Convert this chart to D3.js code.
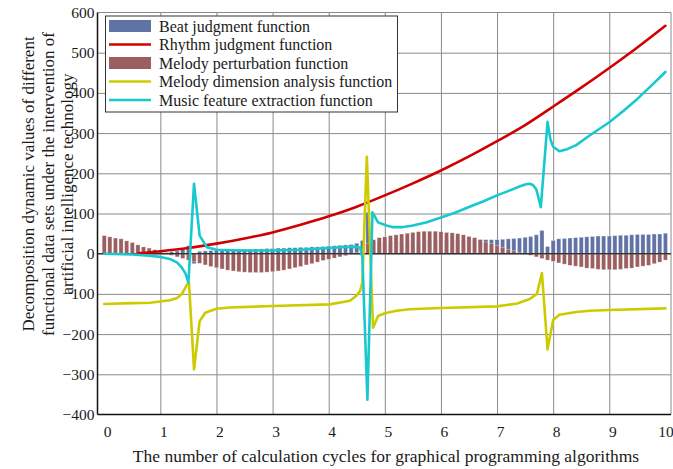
<!DOCTYPE html>
<html>
<head>
<meta charset="utf-8">
<script src="https://cdn.jsdelivr.net/npm/d3@7"></script>
<style>
  html, body { margin: 0; padding: 0; background: #fff; }
  svg { display: block; }
  svg text { font-family: "Liberation Serif", "Times New Roman", serif; }
</style>
</head>
<body>
<svg id="chart" width="673" height="469"></svg>
<script>
// ---------------- data ----------------
const xTicks = [0, 1, 2, 3, 4, 5, 6, 7, 8, 9, 10];
const yTicks = [-400, -300, -200, -100, 0, 100, 200, 300, 400, 500, 600];

const barX = [
  0.0, 0.1, 0.2, 0.3, 0.4, 0.5, 0.6, 0.7, 0.8, 0.9,
  1.0, 1.1, 1.2, 1.3, 1.4, 1.5, 1.6, 1.7, 1.8, 1.9,
  2.0, 2.1, 2.2, 2.3, 2.4, 2.5, 2.6, 2.7, 2.8, 2.9,
  3.0, 3.1, 3.2, 3.3, 3.4, 3.5, 3.6, 3.7, 3.8, 3.9,
  4.0, 4.1, 4.2, 4.3, 4.4, 4.5, 4.6, 4.7, 4.8, 4.9,
  5.0, 5.1, 5.2, 5.3, 5.4, 5.5, 5.6, 5.7, 5.8, 5.9,
  6.0, 6.1, 6.2, 6.3, 6.4, 6.5, 6.6, 6.7, 6.8, 6.9,
  7.0, 7.1, 7.2, 7.3, 7.4, 7.5, 7.6, 7.7, 7.8, 7.9,
  8.0, 8.1, 8.2, 8.3, 8.4, 8.5, 8.6, 8.7, 8.8, 8.9,
  9.0, 9.1, 9.2, 9.3, 9.4, 9.5, 9.6, 9.7, 9.8, 9.9,
  10.0
];

// Beat judgment function (blue bars)
const beatValues = [
  0, 0, 0, 0, 0, 0, 0, 0, 0, 0,
  1, 3, 5, 7, 10, 20, -25, 6, 7, 8,
  8, 9, 9, 10, 10, 11, 11, 12, 12, 13,
  13, 14, 14, 15, 15, 16, 16, 17, 17, 18,
  19, 20, 21, 22, 23, 26, 33, 103, 30, 30,
  30, 30, 31, 31, 31, 32, 32, 32, 33, 33,
  33, 33, 34, 34, 34, 34, 35, 35, 35, 35,
  35, 36, 37, 38, 39, 41, 43, 47, 58, 18,
  33, 37, 38, 39, 40, 41, 42, 43, 44, 44,
  44, 45, 46, 46, 47, 48, 48, 48, 49, 49,
  51
];

// Melody perturbation function (brown bars)
const perturbValues = [
  45, 42, 39, 37, 32, 28, 22, 17, 14, 10,
  5, 0, -4, -8, -12, -16, -20, -24, -28, -32,
  -35, -38, -41, -43, -45, -46, -47, -47, -47, -46,
  -45, -43, -41, -38, -35, -32, -28, -25, -21, -17,
  -14, -11, -8, -5, -2, 3, 10, 26, 35, 40,
  42, 45, 47, 49, 51, 53, 55, 56, 56, 56,
  55, 53, 52, 50, 47, 43, 40, 35, 29, 25,
  21, 15, 10, 7, 3, 0, -4, -8, -12, -16,
  -19, -23, -26, -29, -31, -33, -36, -37, -39, -40,
  -40, -40, -39, -37, -36, -33, -31, -29, -25, -21,
  -16
];

// Rhythm judgment function (red line)
const rhythmX = [0.6, 1.0, 1.5, 2.0, 2.5, 3.0, 3.5, 4.0, 4.5, 5.0, 5.5, 6.0, 6.5, 7.0, 7.5, 8.0, 8.5, 9.0, 9.5, 10.0];
const rhythmY = [1, 6, 14, 25, 38, 53, 72, 93, 117, 145, 175, 207, 242, 280, 320, 366, 413, 462, 513, 567];

// Melody dimension analysis function (yellow line)
const melodyDimX = [0, 0.5, 0.82, 1.17, 1.3, 1.38, 1.47, 1.51, 1.6, 1.7, 1.8, 2.0, 2.24, 3.0, 4.02, 4.38, 4.5, 4.56, 4.6, 4.68, 4.79, 4.88, 5.0, 5.21, 5.44, 6.0, 7.0, 7.36, 7.52, 7.59, 7.71, 7.8, 7.9, 8.0, 8.11, 8.41, 8.65, 9.0, 10.0];
const melodyDimY = [-125, -123, -122, -116, -110, -101, -78, -72, -288, -168, -147, -137, -134, -130, -126, -117, -104, -92, -72, 241, -184, -155, -148, -142, -138, -135, -131, -124, -116, -112, -100, -48, -238, -165, -152, -145, -142, -140, -136];

// Music feature extraction function (cyan line)
const featureX = [0, 0.5, 0.8, 1.0, 1.17, 1.3, 1.38, 1.45, 1.5, 1.6, 1.7, 1.83, 2.0, 2.5, 3.0, 3.5, 4.0, 4.3, 4.5, 4.56, 4.6, 4.69, 4.78, 4.88, 5.03, 5.15, 5.3, 5.5, 5.75, 6.0, 6.25, 6.5, 6.75, 7.0, 7.22, 7.4, 7.5, 7.58, 7.64, 7.7, 7.78, 7.9, 7.95, 8.0, 8.11, 8.25, 8.41, 8.65, 9.0, 9.25, 9.5, 9.75, 10.0];
const featureY = [0, -2, -5, -8, -13, -22, -34, -50, -72, 174, 45, 16, 10, 8, 8, 10, 14, 17, 17, 15, -9, -363, 103, 78, 70, 66, 66, 70, 78, 90, 102, 116, 130, 145, 157, 167, 172, 174, 171, 160, 116, 328, 285, 266, 255, 260, 270, 294, 327, 355, 385, 418, 452];

const legendLabels = [
  "Beat judgment function",
  "Rhythm judgment function",
  "Melody perturbation function",
  "Melody dimension analysis function",
  "Music feature extraction function"
];
const xTitle = "The number of calculation cycles for graphical programming algorithms";
const yTitleLines = [
  "Decomposition dynamic values of different",
  "functional data sets under the intervention of",
  "artificial intelligence technology"
];

// ---------------- styles ----------------
const colBeat = "#6173a4";
const colPerturb = "#9b5f60";
const colRhythm = "#d10000";
const colMelodyDim = "#cdcb00";
const colFeature = "#17c9cf";
const serif = '"Liberation Serif", "Times New Roman", serif';

// ---------------- chart ----------------
const svg = d3.select("#chart");
const pLeft = 97.5, pRight = 671, pTop = 12.5, pBottom = 414.5;

const x = d3.scaleLinear().domain([-0.12, 10.1]).range([pLeft, pRight]);
const y = d3.scaleLinear().domain([-400, 600]).range([pBottom, pTop]);

// grid
const grid = svg.append("g");
grid.append("g")
  .attr("transform", `translate(0,${pBottom})`)
  .call(d3.axisBottom(x).tickValues(xTicks.filter(v => v > 0 && v < 10)).tickSize(-(pBottom - pTop)).tickFormat(""))
  .call(g => g.select(".domain").remove())
  .call(g => g.selectAll("line").attr("stroke", "#8a8a8a").attr("stroke-width", 1));
grid.append("g")
  .attr("transform", `translate(${pLeft},0)`)
  .call(d3.axisLeft(y).tickValues(yTicks.filter(v => v > -400 && v < 600)).tickSize(-(pRight - pLeft)).tickFormat(""))
  .call(g => g.select(".domain").remove())
  .call(g => g.selectAll("line").attr("stroke", "#8a8a8a").attr("stroke-width", 1));

// top and right borders
svg.append("line").attr("x1", pLeft).attr("x2", pRight).attr("y1", y(600)).attr("y2", y(600))
  .attr("stroke", "#8a8a8a").attr("stroke-width", 1);
svg.append("line").attr("x1", pRight).attr("x2", pRight).attr("y1", pTop).attr("y2", pBottom)
  .attr("stroke", "#8a8a8a").attr("stroke-width", 1);

// bars
const bw = (x(0.1) - x(0)) * 0.74;
function drawBars(vals, color) {
  svg.append("g").selectAll("rect")
    .data(vals.map((v, i) => ({ x: barX[i], v })).filter(d => d.v !== 0))
    .join("rect")
    .attr("x", d => x(d.x) - bw / 2)
    .attr("width", bw)
    .attr("y", d => y(Math.max(0, d.v)))
    .attr("height", d => Math.abs(y(d.v) - y(0)))
    .attr("fill", color)
    .attr("stroke", "rgba(255,255,255,0.55)")
    .attr("stroke-width", 0.6);
}
drawBars(beatValues, colBeat);
drawBars(perturbValues, colPerturb);

// zero line over bars
svg.append("line").attr("x1", pLeft).attr("x2", pRight).attr("y1", y(0)).attr("y2", y(0))
  .attr("stroke", "#333").attr("stroke-width", 1.2);

// lines
function drawLine(xs, ys, color, curve) {
  const line = d3.line().x(d => x(d[0])).y(d => y(d[1])).curve(curve);
  svg.append("path")
    .datum(xs.map((v, i) => [v, ys[i]]))
    .attr("d", line)
    .attr("fill", "none")
    .attr("stroke", color)
    .attr("stroke-width", 2.6)
    .attr("stroke-linejoin", "round")
    .attr("stroke-linecap", "round");
}
drawLine(rhythmX, rhythmY, colRhythm, d3.curveMonotoneX);
drawLine(melodyDimX, melodyDimY, colMelodyDim, d3.curveLinear);
drawLine(featureX, featureY, colFeature, d3.curveLinear);

// axes
const xAxis = svg.append("g")
  .attr("transform", `translate(0,${pBottom})`)
  .attr("font-family", serif)
  .call(d3.axisBottom(x).tickValues(xTicks).tickSize(0).tickPadding(0).tickFormat(d3.format("d")));
xAxis.attr("font-family", serif);
xAxis.select(".domain").attr("stroke", "#111").attr("stroke-width", 1.5).attr("d", `M${pLeft},0H${pRight}`);
xAxis.selectAll("text")
  .attr("y", 22).attr("dy", 0).attr("dx", d => d === 10 ? 0 : 3)
  .attr("font-size", 15.5).attr("fill", "#1a1a1a")
  .attr("font-family", serif);

const yAxis = svg.append("g")
  .attr("transform", `translate(${pLeft},0)`)
  .call(d3.axisLeft(y).tickValues(yTicks).tickSize(0).tickPadding(3).tickFormat(d3.format("d")));
yAxis.attr("font-family", serif);
yAxis.select(".domain").attr("stroke", "#111").attr("stroke-width", 1.5).attr("d", `M0,${pTop}V${pBottom}`);
yAxis.selectAll("text")
  .attr("font-size", 15.5).attr("fill", "#1a1a1a")
  .attr("font-family", serif);

// axis titles
svg.append("text")
  .attr("x", 386).attr("y", 462)
  .attr("text-anchor", "middle")
  .attr("font-family", serif)
  .attr("font-size", 17.5).attr("fill", "#1a1a1a")
  .text(xTitle);

const yT = svg.append("g").attr("transform", "translate(0,184) rotate(-90)");
const yBase = [34, 54, 73];
yTitleLines.forEach((t, i) => {
  yT.append("text")
    .attr("x", 0).attr("y", yBase[i])
    .attr("text-anchor", "middle")
    .attr("font-family", serif)
    .attr("font-size", 17).attr("fill", "#1a1a1a")
    .text(t);
});

// legend
const lg = svg.append("g");
lg.append("rect").attr("x", 105.5).attr("y", 16).attr("width", 292).attr("height", 96)
  .attr("fill", "#fff").attr("stroke", "#333").attr("stroke-width", 1);
const rowY = [26, 44.5, 63, 81.5, 100];
const kinds = [
  { type: "bar", color: colBeat },
  { type: "line", color: colRhythm },
  { type: "bar", color: colPerturb },
  { type: "line", color: colMelodyDim },
  { type: "line", color: colFeature }
];
kinds.forEach((k, i) => {
  if (k.type === "bar") {
    lg.append("rect").attr("x", 109).attr("y", rowY[i] - 6).attr("width", 42).attr("height", 12)
      .attr("fill", k.color);
  } else {
    lg.append("line").attr("x1", 109).attr("x2", 151).attr("y1", rowY[i]).attr("y2", rowY[i])
      .attr("stroke", k.color).attr("stroke-width", 2.6);
  }
  lg.append("text").attr("x", 159).attr("y", rowY[i]).attr("dy", "0.35em")
    .attr("font-family", serif)
    .attr("font-size", 16).attr("fill", "#1a1a1a")
    .text(legendLabels[i]);
});
</script>
</body>
</html>
